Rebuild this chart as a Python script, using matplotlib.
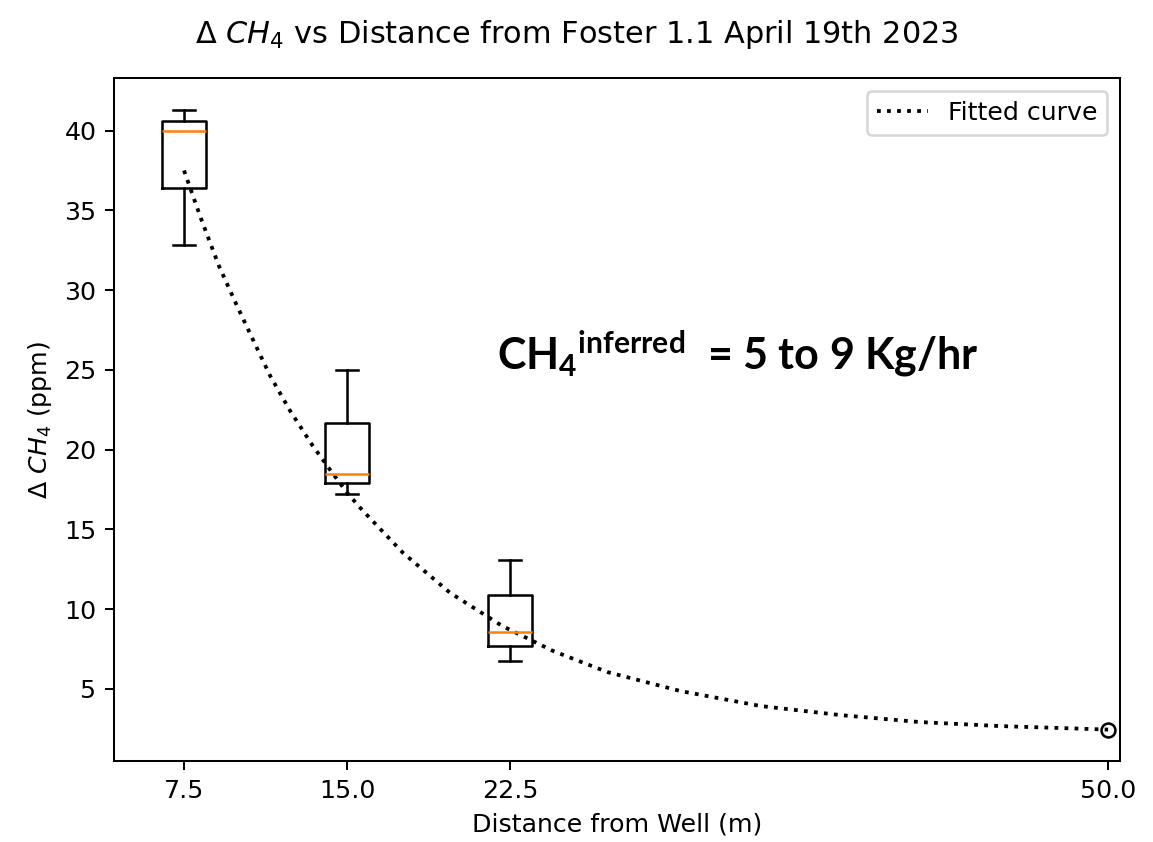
import numpy as np
from matplotlib import pyplot as plt

plt.rcParams['mathtext.fontset'] = 'custom'
plt.rcParams['mathtext.rm'] = 'DejaVu Sans'
plt.rcParams['mathtext.it'] = 'DejaVu Sans:italic'
plt.rcParams['mathtext.bf'] = 'Lato:bold'

# box statistics (ppm)
distances = [7.5, 15.0, 22.5]
whislo = [32.85, 17.23, 6.75]
q1 = [36.4, 17.92, 7.69]
med = [40.0, 18.48, 8.57]
q3 = [40.6, 21.68, 10.9]
whishi = [41.3, 25.0, 13.09]

# fitted curve
curve_x = [7.5, 8.28, 9.11, 9.89, 10.67, 11.46, 12.38, 13.39, 14.22, 15.0,
           15.69, 17.57, 19.74, 22.13, 24.47, 26.96, 30.32, 34.0, 37.67,
           41.35, 45.03, 50.0]
curve_y = [37.5, 34.48, 31.5, 29.15, 26.89, 24.63, 22.43, 20.3, 18.73, 17.3,
           16.22, 13.53, 11.02, 8.95, 7.38, 6.06, 4.87, 3.93, 3.36,
           2.92, 2.67, 2.45]

far_x = [50.0]
far_y = [2.42]

tick_pos = [7.5, 15.0, 22.5, 50.0]
tick_labels = ['7.5', '15.0', '22.5', '50.0']

dpi = 182
fig = plt.figure(figsize=(1153 / dpi, 842 / dpi), dpi=dpi)
ax = fig.add_axes([0.0989, 0.0962, 0.8725, 0.8112])

stats = []
for i in range(len(distances)):
    stats.append({'med': med[i], 'q1': q1[i], 'q3': q3[i],
                  'whislo': whislo[i], 'whishi': whishi[i], 'fliers': []})
ax.bxp(stats, positions=distances, widths=2.0, manage_ticks=False)

ax.plot(curve_x, curve_y, color='k', ls=':', lw=1.5, label='Fitted curve')
ax.plot(far_x, far_y, ls='', marker='o', mfc='none', mec='k', ms=5.5)

ax.set_xlim(4.28, 50.55)
ax.set_ylim(0.48, 43.3)
ax.set_xticks(tick_pos)
ax.set_xticklabels(tick_labels)

ax.set_xlabel('Distance from Well (m)')
ax.set_ylabel(r'$\Delta\ CH_4$ (ppm)')
ax.set_title(r'$\Delta\ CH_4$ vs Distance from Foster 1.1 April 19th 2023',
             pad=14, x=0.46)
ax.legend(loc='upper right')

ax.text(21.9, 25.0, r'$\mathbf{CH_4{}^{inferred}}$  = 5 to 9 Kg/hr',
        family='Lato', weight='bold', fontsize=17, ha='left', va='baseline')

fig.savefig('out.png', dpi=dpi)
